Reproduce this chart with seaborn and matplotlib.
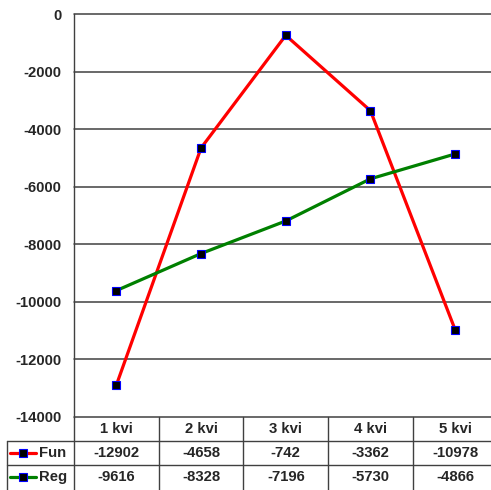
import matplotlib
matplotlib.use("Agg")
import matplotlib.pyplot as plt
import matplotlib.transforms as mtransforms
from matplotlib.lines import Line2D
import pandas as pd
import seaborn as sns

# Quarterly results for the two units
categories = ["1 kvi", "2 kvi", "3 kvi", "4 kvi", "5 kvi"]
fun = [-12902, -4658, -742, -3362, -10978]
reg = [-9616, -8328, -7196, -5730, -4866]
series_names = ["Fun", "Reg"]
series_colors = {"Fun": "#FF0000", "Reg": "#008000"}
y_ticks = list(range(-14000, 1, 2000))

sns.set_style("white")
plt.rcParams["font.family"] = ["Liberation Sans", "DejaVu Sans"]
plt.rcParams["font.weight"] = "bold"
FS = 10.7
GRID = "#404040"

W, H = 491, 490
fig = plt.figure(figsize=(W / 100, H / 100), dpi=100)
ax_left, ax_bottom, ax_w, ax_h = 74, 73.3, 423.5, 402.7
ax = fig.add_axes([ax_left / W, ax_bottom / H, ax_w / W, ax_h / H])

df = pd.DataFrame({
    "quarter": list(range(len(categories))) * 2,
    "value": fun + reg,
    "series": [series_names[0]] * len(fun) + [series_names[1]] * len(reg),
})
marker_kw = dict(marker="s", markersize=5.5, markerfacecolor="black",
                 markeredgecolor="#0000FF", markeredgewidth=0.8)
sns.lineplot(data=df, x="quarter", y="value", hue="series", hue_order=series_names,
             palette=series_colors, linewidth=2.3, legend=False, ax=ax,
             **marker_kw)

ax.set_xlim(-0.5, len(categories) - 0.5)
ax.set_ylim(y_ticks[0], y_ticks[-1])
ax.set_yticks(y_ticks)
ax.set_yticklabels([str(v) for v in y_ticks], fontsize=FS, fontweight="bold")
ax.set_xticks([])
ax.set_xlabel("")
ax.set_ylabel("")
ax.tick_params(axis="y", length=5, width=1, color=GRID, direction="out", pad=4)
ax.yaxis.grid(True, color=GRID, linewidth=1.1)
for gl in ax.get_ygridlines():
    gl.set_clip_on(False)
for side in ["top", "right", "bottom"]:
    ax.spines[side].set_visible(False)
ax.spines["left"].set_color(GRID)
ax.spines["left"].set_linewidth(1.0)

# Data table below the plot
row_h = 24.3 / ax_h
n = len(categories)
tx = mtransforms.blended_transform_factory(ax.transData, ax.transAxes)
fx = mtransforms.blended_transform_factory(fig.transFigure, ax.transAxes)
lw_t = 1.0

for i in range(n + 1):
    ax.add_line(Line2D([i - 0.5, i - 0.5], [0, -3 * row_h], transform=tx,
                       color=GRID, lw=lw_t, clip_on=False))
x0 = 7 / W
for k in (1, 2):
    ax.add_line(Line2D([x0, 1.0], [-k * row_h, -k * row_h], transform=fx,
                       color=GRID, lw=lw_t, clip_on=False))
ax.add_line(Line2D([x0, x0], [-row_h, -3 * row_h], transform=fx,
                   color=GRID, lw=lw_t, clip_on=False))

for i, cat in enumerate(categories):
    ax.text(i, -0.5 * row_h, cat, transform=tx, ha="center", va="center",
            fontsize=FS, fontweight="bold", clip_on=False)

for r, (name, vals) in enumerate(zip(series_names, [fun, reg])):
    yc = -(1.5 + r) * row_h
    for i, v in enumerate(vals):
        ax.text(i, yc, str(v), transform=tx, ha="center", va="center",
                fontsize=FS, fontweight="bold", clip_on=False)
    ax.add_line(Line2D([10 / W, 36 / W], [yc, yc], transform=fx,
                       color=series_colors[name], lw=2.3, clip_on=False))
    ax.add_line(Line2D([23 / W], [yc], transform=fx, clip_on=False,
                       linestyle="none", **marker_kw))
    ax.text(39.5 / W, yc, name, transform=fx, ha="left", va="center",
            fontsize=FS, fontweight="bold", clip_on=False)

fig.savefig("out.png", dpi=100)
